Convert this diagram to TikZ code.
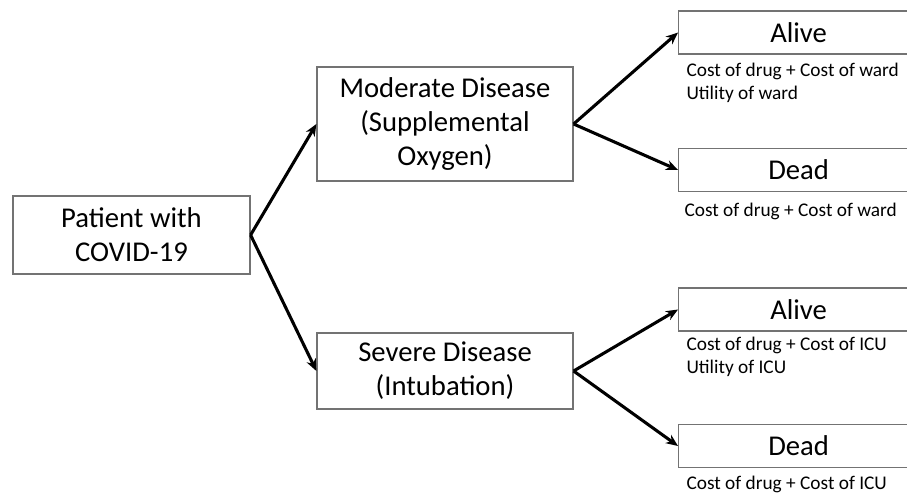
\documentclass[tikz,border=0pt]{standalone}
\usepackage{fontspec}
\setmainfont{Carlito}
\usetikzlibrary{arrows.meta}
\tikzset{every picture/.style={line width=0.75pt}}
\tikzset{
  boxnode/.style={draw=black!55, line width=0.9pt, fill=white, align=center, inner sep=0pt, font=\fontsize{21.5}{25.5}\selectfont},
  endnode/.style={boxnode, minimum width=180pt, minimum height=32.25pt, anchor=west},
  costtxt/.style={anchor=north west, inner sep=0.75pt, align=left, font=\fontsize{14.5}{16.8}\selectfont},
  branch/.style={line width=2.3pt, -{Stealth[length=9pt,width=7.5pt]}}
}

\begin{document}
\begin{tikzpicture}[x=0.75pt,y=0.75pt,yscale=-1,xscale=1]
\useasboundingbox (0,0) rectangle (907,493);

% boxes
\node [boxnode, minimum width=177.75pt, minimum height=58.5pt] (patient) at (131.5,235) {Patient with\\COVID-19};
\node [boxnode, minimum width=192pt, minimum height=85.5pt] (moderate) at (445,124) {Moderate Disease\\(Supplemental\\Oxygen)};
\node [boxnode, minimum width=192pt, minimum height=57pt] (severe) at (445,371) {Severe Disease\\(Intubation)};
\node [endnode] (alivew) at (678,32.5) {Alive};
\node [endnode] (deadw) at (678,170) {Dead};
\node [endnode] (alivei) at (678,309.5) {Alive};
\node [endnode] (deadi) at (678,446) {Dead};

% cost and utility texts
\node [costtxt] (costaw) at (685,62) {Cost of drug + Cost of ward\\Utility of ward};
\node [costtxt] (costdw) at (683,202) {Cost of drug + Cost of ward};
\node [costtxt] (costai) at (685,336) {Cost of drug + Cost of ICU\\Utility of ICU};
\node [costtxt] (costdi) at (685,475) {Cost of drug + Cost of ICU};

% branches
\draw [branch] (patient.east) -- (moderate.west);
\draw [branch] (patient.east) -- (severe.west);
\draw [branch] (moderate.east) -- (alivew.west);
\draw [branch] (moderate.east) -- (deadw.west);
\draw [branch] (severe.east) -- (alivei.west);
\draw [branch] (severe.east) -- (deadi.west);

\end{tikzpicture}
\end{document}
